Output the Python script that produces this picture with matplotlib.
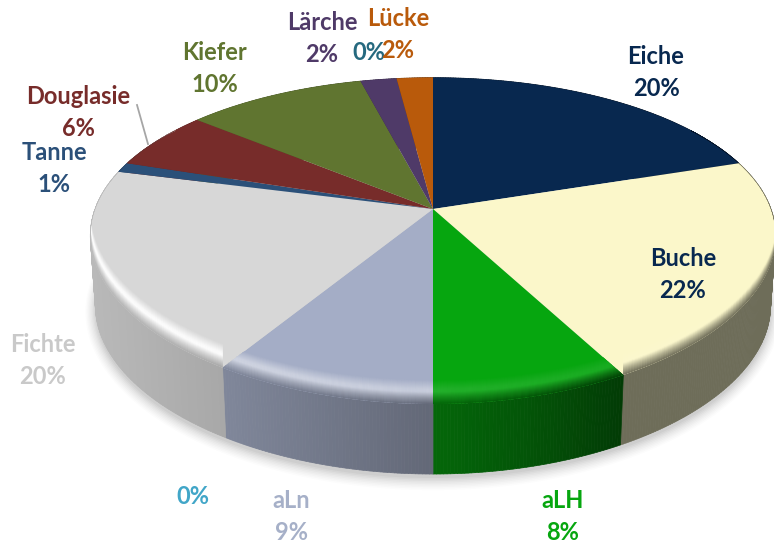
import numpy as np
import matplotlib
matplotlib.use("Agg")
import matplotlib.pyplot as plt
from matplotlib.collections import PolyCollection
from matplotlib.colors import to_rgb
from matplotlib.patches import Polygon

categories = ["Eiche", "Buche", "aLH", "", "aLn", "Fichte", "Tanne", "Douglasie", "Kiefer", "Lärche", "", "Lücke"]
values = [20, 22, 8, 0, 9, 20, 1, 6, 10, 2, 0, 2]
slice_colors = ["#08284F", "#FBF7CA", "#06A60F", "#41A6C8", "#A4ADC6", "#D7D7D7",
                "#2B5079", "#772C2A", "#607530", "#4F3A68", "#26697F", "#B95A0B"]
label_colors = ["#08284F", "#08284F", "#06A60F", "#41A6C8", "#A6B0C8", "#C9C9C9",
                "#2B5079", "#772C2A", "#607530", "#4F3A68", "#26697F", "#B95A0B"]
label_xy = [(656, 57), (683, 258), (563, 501), (193, 497), (291, 501), (43, 345),
            (54, 153), (78, 97), (215, 52), (322, 22), (369, 21), (398, 19)]

CX, CY, A, B, K, KX = 433, 209, 338, 157, 0.195, 0.165
DEPTH, BOTTOM_SCALE = 70, 0.985
BEVEL = 24
LINE_GAP = 32


def project(theta, r=1.0):
    u, v = r * np.sin(theta), r * np.cos(theta)
    return CX + A * u / (1 + KX * v), CY - B * v / (1 + K * v)


def bottom_rim(theta):
    x, y = project(theta)
    return CX + (x - CX) * BOTTOM_SCALE, y + DEPTH


fig = plt.figure(figsize=(7.74, 5.44), dpi=100, facecolor="white")
ax = fig.add_axes([0, 0, 1, 1])
ax.set_xlim(0, 774)
ax.set_ylim(544, 0)
ax.axis("off")

# soft shadow under the disc
circle = np.linspace(0, 2 * np.pi, 361)
sx, sy = bottom_rim(circle)
for grow, alpha in zip(np.linspace(1.06, 1.0, 9), [0.012, 0.014, 0.016, 0.018, 0.02, 0.024, 0.028, 0.032, 0.036]):
    ax.fill(CX + (sx - CX) * (grow * 0.5 + 0.5), (sy - 270) * grow + 270 + 4, color="#000000",
            alpha=alpha, lw=0, zorder=1)

edges = 2 * np.pi * np.concatenate([[0], np.cumsum(values)]) / np.sum(values)
side_polys, side_cols, top_polys, top_cols = [], [], [], []
band = np.linspace(1.0, 0.0, 25)  # 1 = inner edge of the rounded rim, 0 = outer edge
profile_pos = [0.0, 0.25, 0.5, 0.62, 1.0]  # 0 = outer edge
blend_to_side = [1.0, 0.55, 0.0, 0.0, 0.0]
blend_to_light = [1.0, 1.0, 1.0, 0.95, 0.0]

for i, col in enumerate(slice_colors):
    if values[i] == 0:
        continue
    base = np.array(to_rgb(col))
    n = max(4, int((edges[i + 1] - edges[i]) * 180 / np.pi * 2))
    ts = np.linspace(edges[i], edges[i + 1], n + 1)
    x0, y0 = project(ts)
    wedge = [(CX, CY)] + list(zip(x0, y0))
    top_polys.append(wedge)
    top_cols.append(base)
    bevel_polys, bevel_cols = [], []
    for t0, t1 in zip(ts[:-1], ts[1:]):
        tm = 0.5 * (t0 + t1)
        xm = project(tm)[0]
        shade = np.interp(xm, [90, 223, 433, 622, 775], [0.86, 0.78, 0.60, 0.42, 0.43])
        if col == "#06A60F":
            shade = np.interp(xm, [433, 520, 622], [0.62, 0.52, 0.36])
        if col == "#FBF7CA":
            shade = 0.44
        side = base * shade
        bx0, by0 = project(t0)
        bx1, by1 = project(t1)
        cx0, cy0 = bottom_rim(t0)
        cx1, cy1 = bottom_rim(t1)
        side_polys.append([(bx0, by0), (bx1, by1), (cx1, cy1), (cx0, cy0)])
        side_cols.append(side)

        # rounded edge of the disc, only visible toward the viewer
        h0 = BEVEL * np.clip((0.55 - np.cos(t0)) / 0.7, 0, 1)
        h1 = BEVEL * np.clip((0.55 - np.cos(t1)) / 0.7, 0, 1)
        if max(h0, h1) == 0:
            continue
        glow = np.interp(xm, [90, 223, 224, 433, 434, 622, 775], [0.98, 0.97, 0.5, 0.4, 0.12, 0.08, 0.0])
        light = base + (1 - base) * glow
        for j in range(len(band) - 1):
            bevel_polys.append([(bx0, by0 - h0 * band[j]), (bx1, by1 - h1 * band[j]),
                                (bx1, by1 - h1 * band[j + 1]), (bx0, by0 - h0 * band[j + 1])])
            s = 0.5 * (band[j] + band[j + 1])
            tl = np.interp(s, profile_pos, blend_to_light)
            ts_ = np.interp(s, profile_pos, blend_to_side)
            c = base + (light - base) * tl
            bevel_cols.append(c + (side - c) * ts_)
    if bevel_polys:
        coll = PolyCollection(bevel_polys, facecolors=bevel_cols, edgecolors=bevel_cols,
                              linewidths=0.3, zorder=3.5)
        ax.add_collection(coll)
        coll.set_clip_path(Polygon(wedge, closed=True, transform=ax.transData))

ax.add_collection(PolyCollection(side_polys, facecolors=side_cols, edgecolors=side_cols, linewidths=0.5, zorder=2))
ax.add_collection(PolyCollection(top_polys, facecolors=top_cols, edgecolors="none", zorder=3))

# leader line for Douglasie
ax.plot([137, 148], [105, 144], color="#A6A6A6", lw=1.3, zorder=4)

font = dict(family="Lato", fontweight="bold", fontsize=17, ha="center", va="center", zorder=5)
for name, value, color, (x, y) in zip(categories, values, label_colors, label_xy):
    if name:
        ax.text(x, y, name, color=color, **font)
        ax.text(x, y + LINE_GAP, f"{value}%", color=color, **font)
    else:
        ax.text(x, y + (LINE_GAP if y < 100 else 0), f"{value}%", color=color, **font)

fig.savefig("out.png", dpi=100, facecolor="white")
